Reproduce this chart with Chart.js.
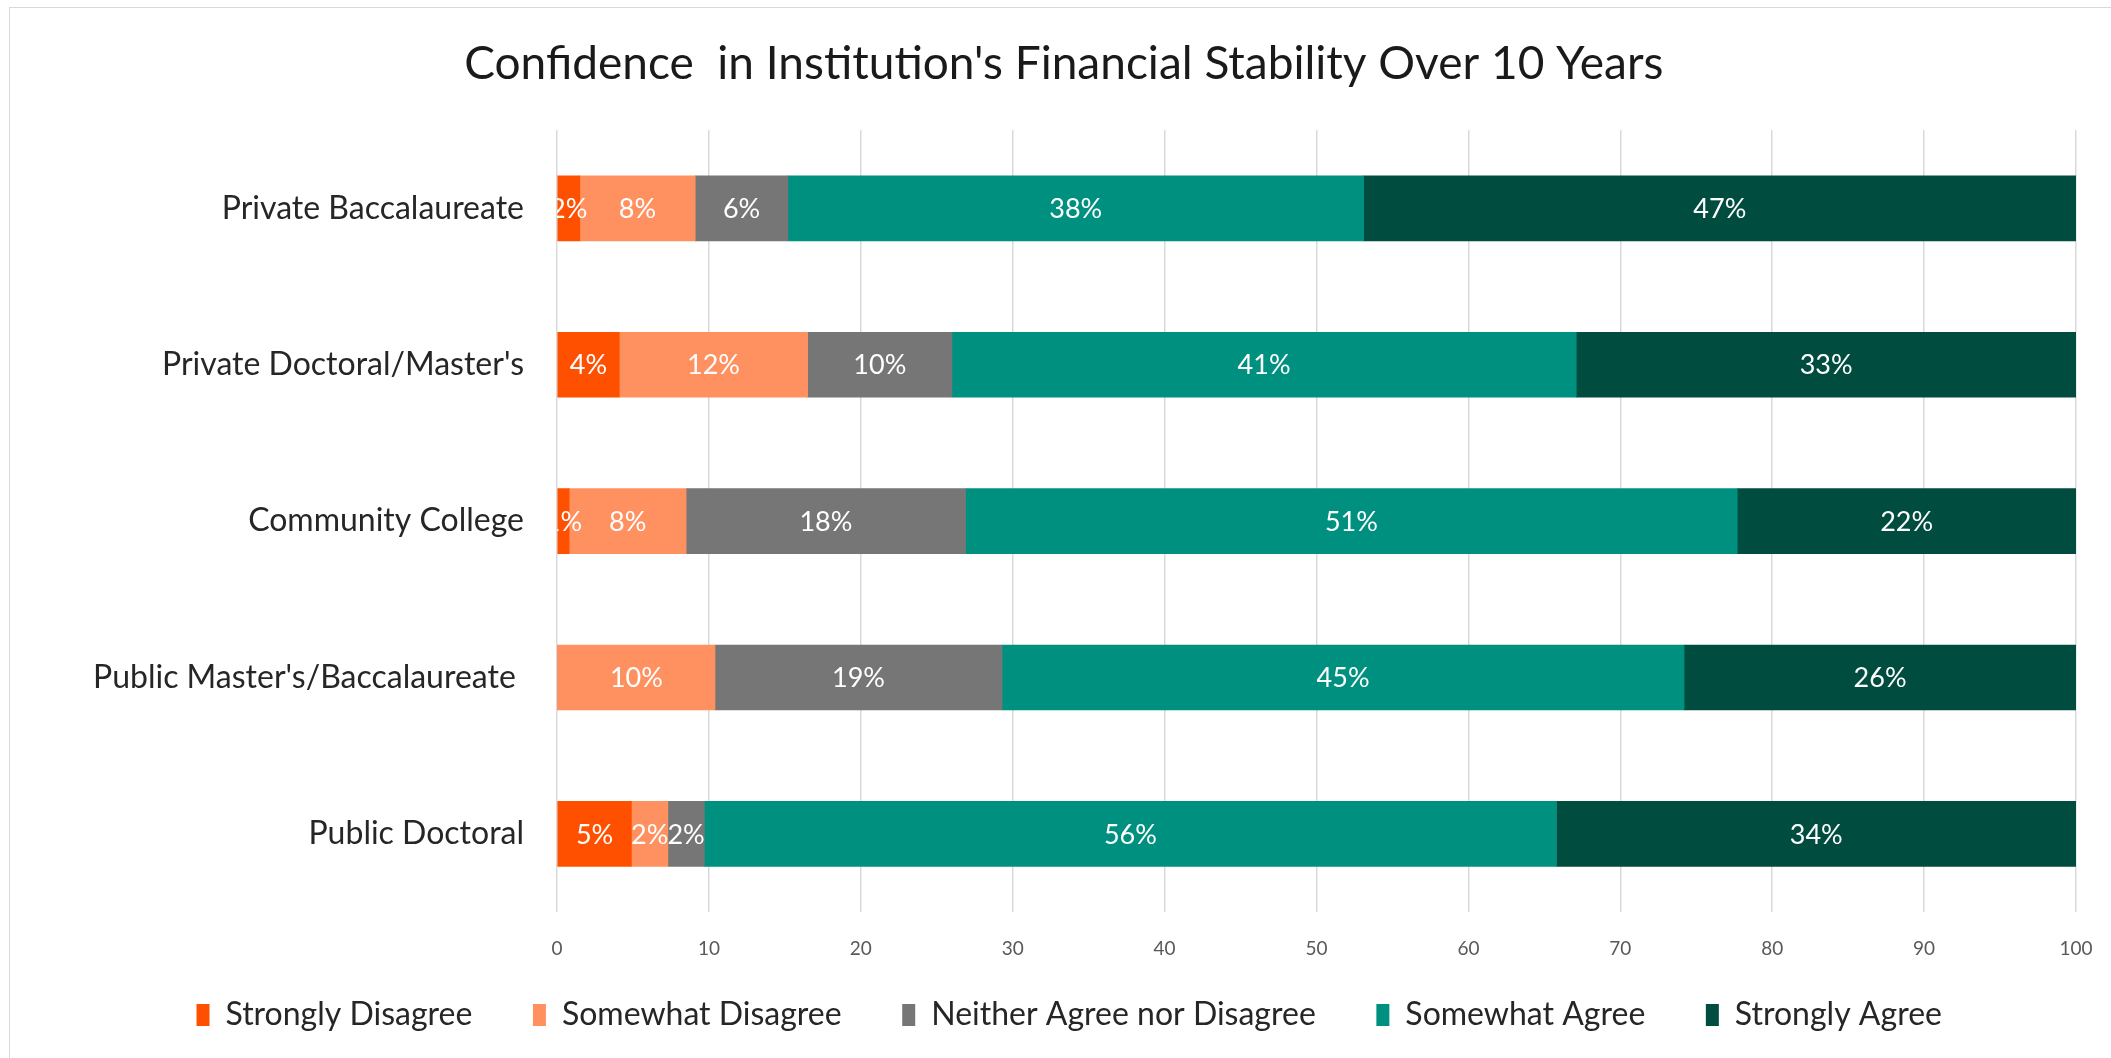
<!DOCTYPE html>
<html>
<head>
<meta charset="utf-8">
<script src="https://cdn.jsdelivr.net/npm/chart.js@4/dist/chart.umd.min.js"></script>
<style>
  html, body { margin: 0; padding: 0; background: #fff; }
  #wrap { position: absolute; left: 9px; top: 7px; width: 2102px; height: 1051px;
          border-left: 1px solid #d9d9d9; border-top: 1px solid #d9d9d9; box-sizing: border-box; }
  canvas { display: block; }
</style>
</head>
<body>
<div id="wrap"><canvas id="chart" width="2101" height="1050"></canvas></div>
<script>
// Institution types (top to bottom)
const categories = [
    'Private Baccalaureate',
    "Private Doctoral/Master's",
    'Community College',
    "Public Master's/Baccalaureate ",
    'Public Doctoral'
];

// Percent of respondents per answer
const stronglyDisagree = [1.5, 4.1, 0.8, 0, 4.9];
const somewhatDisagree = [7.6, 12.4, 7.7, 10.4, 2.4];
const neitherAgree     = [6.1, 9.5, 18.4, 18.9, 2.4];
const somewhatAgree    = [37.9, 41.1, 50.8, 44.9, 56.1];
const stronglyAgree    = [46.9, 32.9, 22.3, 25.8, 34.2];

const seriesNames = ['Strongly Disagree', 'Somewhat Disagree', 'Neither Agree nor Disagree', 'Somewhat Agree', 'Strongly Agree'];
const seriesColors = ['#ff5000', '#ff9161', '#767676', '#009080', '#004d40'];

const FONT = 'Lato, "Noto Sans", sans-serif';

// White percent labels centred in each segment
const segmentLabels = {
    id: 'segmentLabels',
    afterDatasetsDraw(chart) {
        const { ctx, chartArea } = chart;
        ctx.save();
        ctx.beginPath();
        ctx.rect(chartArea.left, chartArea.top, chartArea.right - chartArea.left, chartArea.bottom - chartArea.top);
        ctx.clip();
        ctx.fillStyle = '#ffffff';
        ctx.font = '27px ' + FONT;
        ctx.textAlign = 'center';
        ctx.textBaseline = 'middle';
        chart.data.datasets.forEach((ds, i) => {
            chart.getDatasetMeta(i).data.forEach((bar, j) => {
                const v = ds.data[j];
                if (!v) return;
                const cx = (bar.x + bar.base) / 2;
                ctx.fillText(Math.round(v) + '%', cx, bar.y + 1);
            });
        });
        ctx.restore();
    }
};

const datasetsList = [stronglyDisagree, somewhatDisagree, neitherAgree, somewhatAgree, stronglyAgree].map((d, i) => ({
    label: seriesNames[i],
    data: d,
    backgroundColor: seriesColors[i],
    borderWidth: 0,
    barThickness: 65
}));

new Chart(document.getElementById('chart'), {
    type: 'bar',
    data: { labels: categories, datasets: datasetsList },
    options: {
        indexAxis: 'y',
        responsive: false,
        animation: false,
        layout: { padding: { top: 9, right: 35, bottom: 17, left: 77 } },
        plugins: {
            title: {
                display: true,
                // trailing spaces nudge the centred title a little to the left
                text: "Confidence  in Institution's Financial Stability Over 10 Years   ",
                color: '#1a1a1a',
                font: { family: FONT, size: 46, weight: 'normal' },
                padding: { top: 20, bottom: 38 }
            },
            legend: {
                position: 'bottom',
                labels: {
                    color: '#262626',
                    font: { family: FONT, size: 32 },
                    boxWidth: 13,
                    boxHeight: 22,
                    padding: 36,
                    // trailing spaces widen the gap between legend entries
                    generateLabels(chart) {
                        return Chart.defaults.plugins.legend.labels.generateLabels(chart)
                            .map(item => Object.assign(item, { text: item.text + '   ' }));
                    }
                }
            },
            tooltip: { enabled: false }
        },
        scales: {
            x: {
                stacked: true,
                min: 0,
                max: 100,
                ticks: { stepSize: 10, color: '#595959', font: { family: FONT, size: 19, lineHeight: 2.3 }, padding: 15 },
                grid: { color: '#d9d9d9', lineWidth: 1.5, drawTicks: false },
                border: { display: false },
                afterFit(scale) { scale.height = 51; }
            },
            y: {
                stacked: true,
                ticks: { color: '#262626', font: { family: FONT, size: 32 }, padding: 33 },
                grid: { display: false, drawTicks: false },
                border: { display: false },
                afterFit(scale) { scale.width = 470; }
            }
        }
    },
    plugins: [segmentLabels]
});
</script>
</body>
</html>
